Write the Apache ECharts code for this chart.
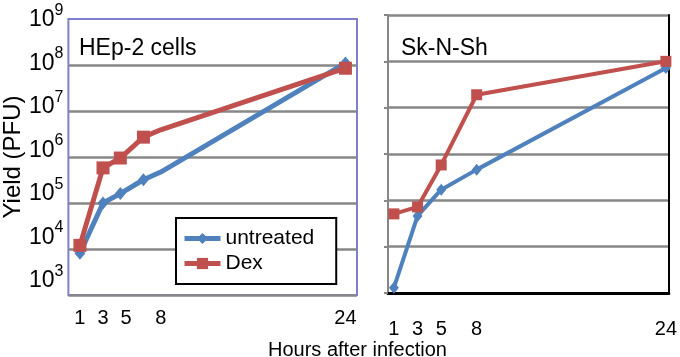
<!DOCTYPE html>
<html>
<head>
<meta charset="utf-8">
<script src="https://cdn.jsdelivr.net/npm/echarts@6/dist/echarts.min.js"></script>
<style>
  html, body { margin: 0; padding: 0; background: #fff; }
  #main { width: 680px; height: 357px; }
</style>
</head>
<body>
<div id="main"></div>
<script>
// virus yield, HEp-2 vs Sk-N-Sh, untreated vs Dex
var hepHours = [1, 3, 4.5, 6.5, 8, 24];
var hepUntreated = [8.1e3, 1.0e5, 1.6e5, 3.2e5, 4.7e5, 1.1e8];
var hepDex = [1.2e4, 5.8e5, 9.5e5, 2.7e6, 3.9e6, 8.5e7];
var hepMarked = [true, true, true, true, false, true];

var skHours = [1, 3, 5, 8, 24];
var skUntreated = [1.3e3, 4.6e4, 1.7e5, 4.6e5, 7.2e7];
var skDex = [5.1e4, 7.2e4, 5.8e5, 1.9e7, 1.0e8];

var hourTicks = [1, 3, 5, 8, 24];
var yieldMin = 1e3, yieldMax = 1e9;

var FONT = 'Liberation Sans';
var BLUE = '#4f81bd', RED = '#c0504d';

function pts(xs, ys, marked) {
    return xs.map(function (x, i) {
        var p = { value: [x, ys[i]] };
        if (marked && !marked[i]) p.symbol = 'none';
        return p;
    });
}

// superscript labels, drifting up a little like the pasted ones
var rich = {};
for (var e = 3; e <= 9; e++) {
    var d = (9 - e) * 2.5 + 2;
    rich['b' + e] = { fontSize: 23, fontFamily: FONT, color: '#000', padding: [6, 0, 2 * d, 0], verticalAlign: 'bottom' };
    rich['s' + e] = { fontSize: 16, fontFamily: FONT, color: '#000', verticalAlign: 'top' };
}

var mychart = echarts.init(document.getElementById('main'));

var option = {
    animation: false,
    backgroundColor: '#fff',
    title: [
        { text: 'HEp-2 cells', left: 74, top: 32, textStyle: { fontFamily: FONT, fontSize: 23, fontWeight: 'normal', color: '#000' } },
        { text: 'Sk-N-Sh', left: 396, top: 32, textStyle: { fontFamily: FONT, fontSize: 23, fontWeight: 'normal', color: '#000' } },
        { text: 'Hours after infection', left: 263, top: 335, textStyle: { fontFamily: FONT, fontSize: 20, fontWeight: 'normal', color: '#000' } }
    ],
    legend: {
        data: ['untreated', 'Dex'],
        orient: 'vertical',
        left: 176,
        top: 218,
        padding: [10, 22, 10, 6],
        itemGap: 4,
        itemWidth: 36,
        itemHeight: 14,
        backgroundColor: '#fff',
        borderColor: '#000',
        borderWidth: 2,
        borderRadius: 0,
        lineStyle: { width: 5 },
        textStyle: { fontFamily: FONT, fontSize: 21, color: '#000' }
    },
    grid: [
        { left: 66, top: 19, width: 291, height: 276, show: true, borderColor: '#7f7fd0', borderWidth: 2, backgroundColor: 'transparent' },
        { left: 388, top: 15, width: 285, height: 278 }
    ],
    xAxis: [
        {
            gridIndex: 0, type: 'value', min: 0, max: 25,
            axisLine: { show: false }, axisTick: { show: false }, splitLine: { show: false },
            axisLabel: { customValues: hourTicks, margin: 13, fontFamily: FONT, fontSize: 20, color: '#000' }
        },
        {
            gridIndex: 1, type: 'value', min: 0.5, max: 24.25,
            axisLine: { show: true, onZero: false, lineStyle: { color: '#000', width: 3 } },
            axisTick: { show: false }, splitLine: { show: false },
            axisLabel: { customValues: hourTicks, margin: 26, fontFamily: FONT, fontSize: 20, color: '#000' }
        }
    ],
    yAxis: [
        {
            gridIndex: 0, type: 'log', logBase: 10, min: yieldMin, max: yieldMax, splitNumber: 6,
            name: 'Yield (PFU)', nameLocation: 'middle', nameGap: 42,
            nameTextStyle: { fontFamily: FONT, fontSize: 24, color: '#000' },
            axisLine: { show: false }, axisTick: { show: false },
            splitLine: { show: true, showMinLine: false, showMaxLine: false, lineStyle: { color: '#878787', width: 2.5 } },
            axisLabel: {
                margin: 5,
                formatter: function (v) {
                    var k = Math.round(Math.log10(v));
                    return '{b' + k + '|10}{s' + k + '|' + k + '}';
                },
                rich: rich
            }
        },
        {
            gridIndex: 1, type: 'log', logBase: 10, min: yieldMin, max: yieldMax, splitNumber: 6,
            axisLine: { show: true, lineStyle: { color: '#878787', width: 2 } },
            axisTick: { show: true, length: 4, lineStyle: { color: '#878787', width: 2 } },
            splitLine: { show: true, showMinLine: false, lineStyle: { color: '#878787', width: 2.5 } },
            axisLabel: { show: false }
        },
        {
            // right edge of the second panel
            gridIndex: 1, type: 'log', logBase: 10, min: yieldMin, max: yieldMax, position: 'right',
            axisLine: { show: true, lineStyle: { color: '#000', width: 2 } },
            axisTick: { show: false }, splitLine: { show: false }, axisLabel: { show: false }
        }
    ],
    series: [
        {
            name: 'untreated', type: 'line', xAxisIndex: 0, yAxisIndex: 0,
            data: pts(hepHours, hepUntreated, hepMarked),
            symbol: 'diamond', symbolSize: [11, 13], showAllSymbol: true,
            lineStyle: { color: BLUE, width: 5 }, itemStyle: { color: BLUE }, z: 3
        },
        {
            name: 'Dex', type: 'line', xAxisIndex: 0, yAxisIndex: 0,
            data: pts(hepHours, hepDex, hepMarked),
            symbol: 'rect', symbolSize: 13, showAllSymbol: true,
            lineStyle: { color: RED, width: 5 }, itemStyle: { color: RED }, z: 4
        },
        {
            name: 'untreated', type: 'line', xAxisIndex: 1, yAxisIndex: 1,
            data: pts(skHours, skUntreated),
            symbol: 'diamond', symbolSize: [10, 12], showAllSymbol: true,
            lineStyle: { color: BLUE, width: 4 }, itemStyle: { color: BLUE }, z: 3
        },
        {
            name: 'Dex', type: 'line', xAxisIndex: 1, yAxisIndex: 1,
            data: pts(skHours, skDex),
            symbol: 'rect', symbolSize: 11, showAllSymbol: true,
            lineStyle: { color: RED, width: 4 }, itemStyle: { color: RED }, z: 4
        }
    ]
};
mychart.setOption(option);
</script>
</body>
</html>
